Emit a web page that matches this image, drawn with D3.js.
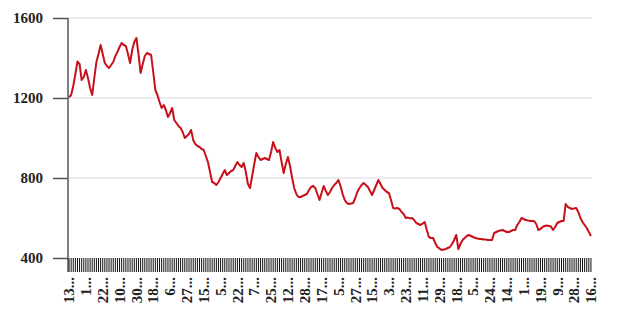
<!doctype html>
<html>
<head>
<meta charset="utf-8">
<title>chart</title>
<script src="https://d3js.org/d3.v7.min.js"></script>
<style>
	body{margin:0;background:#fff;}
	.axis text{font-family:"Liberation Serif","Times New Roman",serif;font-weight:bold;font-size:15px;fill:#222;}
</style>
</head>
<body>
<div id="chart"></div>
<script>
// values, one per trading day
var values = [
	1204,1215,1260,1320,1382,1370,1290,1305,1340,1300,
	1250,1215,1300,1380,1420,1465,1420,1375,1360,1350,
	1365,1380,1410,1430,1455,1475,1465,1460,1420,1375,
	1440,1480,1500,1420,1325,1370,1410,1425,1420,1415,
	1330,1240,1215,1180,1150,1165,1140,1105,1125,1150,
	1090,1075,1060,1050,1030,1000,1010,1020,1040,990,
	970,960,955,945,940,910,880,830,780,775,
	765,780,800,820,840,815,825,835,840,860,
	880,865,855,875,830,770,750,810,870,925,
	905,890,895,900,895,890,930,980,950,930,
	940,880,825,870,905,860,800,750,720,705,
	705,710,715,720,740,755,760,750,720,690,
	725,760,735,715,730,750,765,775,790,760,
	720,690,675,670,672,675,700,730,750,765,
	775,765,755,735,715,740,765,790,770,750,
	740,730,725,690,650,648,650,645,630,620,
	600,602,598,600,590,575,570,565,572,580,
	540,505,500,500,475,455,448,440,442,445,
	450,455,470,490,515,445,470,490,500,510,
	515,510,505,500,498,495,495,493,492,490,
	490,490,525,530,535,538,540,535,530,530,
	535,540,540,565,580,600,595,590,588,585,
	585,585,570,540,545,555,560,562,560,558,
	540,555,575,580,585,585,670,655,650,645,
	648,650,630,600,580,565,550,530,510
];
// labelled days (every 8th point), truncated like the original
var tickLabels = ["13","1","22","10","30","18","6","27","15","5","22","7","25","12","28","17",
	"5","27","15","3","23","11","29","18","5","24","14","1","19","9","28","16"];
var labelEvery = 8;
var yTicks = [400, 800, 1200, 1600];

var width = 619, height = 316;
var padding = {left:68, right:27, top:18, bottom:58};

var svg = d3.select("#chart").append("svg")
	.attr("width", width)
	.attr("height", height);

var idx = d3.range(values.length);

var xScale = d3.scaleBand()
	.domain(idx)
	.range([padding.left, width - padding.right]);

var yScale = d3.scaleLinear()
	.domain([400, 1600])
	.range([height - padding.bottom, padding.top]);

// gridlines
svg.append("g")
	.selectAll("line")
	.data(yTicks.slice(1))
	.enter()
	.append("line")
	.attr("x1", padding.left)
	.attr("x2", width - padding.right)
	.attr("y1", function(d){ return yScale(d); })
	.attr("y2", function(d){ return yScale(d); })
	.attr("stroke", "#d9d9d9")
	.attr("stroke-width", 1);

// y axis
var yAxis = svg.append("g")
	.attr("class", "axis")
	.attr("transform", "translate(" + padding.left + ",0)")
	.call(d3.axisLeft(yScale).tickValues(yTicks).tickFormat(d3.format("d"))
		.tickSize(15).tickPadding(10).tickSizeOuter(0));
yAxis.select(".domain").attr("stroke", "#555").attr("stroke-width", 1.5)
	.attr("d", "M0," + yScale(1600) + "V" + (yScale(400) + 14));
yAxis.selectAll(".tick line").attr("stroke", "#555").attr("stroke-width", 1.5);

// x axis: one tick per day, label on every 8th
var xAxis = svg.append("g")
	.attr("class", "axis")
	.attr("transform", "translate(0," + yScale(400) + ")")
	.call(d3.axisBottom(xScale)
		.tickValues(idx)
		.tickSize(14)
		.tickSizeOuter(0)
		.tickFormat(function(d){ return d % labelEvery === 0 ? tickLabels[d / labelEvery] + "..." : ""; }));
xAxis.select(".domain").remove();
xAxis.selectAll(".tick line").attr("stroke", "#111").attr("stroke-width", 1);
xAxis.selectAll(".tick text")
	.attr("transform", "rotate(-90)")
	.attr("x", -19)
	.attr("y", 0)
	.attr("dy", "0.35em")
	.style("text-anchor", "end");

// price line
var line = d3.line()
	.x(function(d, i){ return xScale(i) + xScale.bandwidth() / 2; })
	.y(function(d){ return yScale(d); });

svg.append("path")
	.datum(values)
	.attr("fill", "none")
	.attr("stroke", "#c8101a")
	.attr("stroke-width", 2)
	.attr("stroke-linejoin", "round")
	.attr("d", line);
</script>
</body>
</html>
